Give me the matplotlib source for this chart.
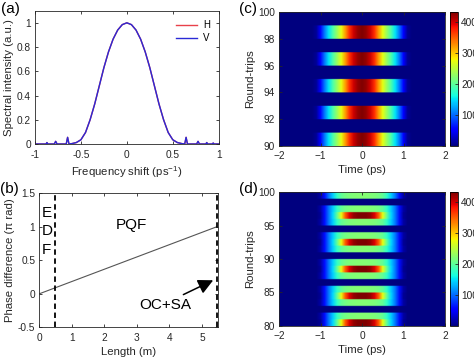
"""Four-panel figure: spectrum, phase vs length, and two round-trip pulse maps."""

import numpy as np
import matplotlib

matplotlib.use("Agg")
import matplotlib.pyplot as plt

plt.rcParams["font.family"] = ["Liberation Sans", "DejaVu Sans"]
plt.rcParams["mathtext.fontset"] = "custom"
plt.rcParams["mathtext.rm"] = "Liberation Sans"
plt.rcParams["mathtext.it"] = "Liberation Sans"

W, H = 474, 360
TXT = "#262626"
TICK_FS = 7.3
LABEL_FS = 8.2

# (a) spectrum
freq = [-1.0, -0.9, -0.88, -0.87, -0.86, -0.79, -0.775, -0.76, -0.66, -0.645, -0.63,
        -0.6, -0.55, -0.5, -0.45, -0.4, -0.35, -0.3, -0.25, -0.2, -0.15, -0.1, -0.05,
        0.0, 0.05, 0.1, 0.15, 0.2, 0.25, 0.3, 0.35, 0.4, 0.45, 0.5, 0.55, 0.6,
        0.63, 0.645, 0.66, 0.76, 0.775, 0.79, 0.86, 0.87, 0.88, 0.93, 0.94, 0.95, 1.0]
spec = [0.0, 0.0, 0.0, 0.012, 0.0, 0.0, 0.022, 0.0, 0.0, 0.055, 0.0,
        0.003, 0.012, 0.035, 0.095, 0.2, 0.33, 0.48, 0.63, 0.76, 0.865, 0.94, 0.985,
        1.0, 0.985, 0.94, 0.865, 0.76, 0.63, 0.48, 0.33, 0.2, 0.095, 0.035, 0.012, 0.003,
        0.0, 0.055, 0.0, 0.0, 0.022, 0.0, 0.0, 0.012, 0.0, 0.0, 0.008, 0.0, 0.0]

# (b) phase difference along the cavity
length = [0.0, 5.45]
phase = [0.0, 1.0]
edf_end = 0.48
cavity_end = 5.45

# (c)/(d) pulse intensity profiles, sampled every 0.1 ps from -2 to 2 ps
prof_c = [0, 0, 0, 0, 0, 0, 0, 0, 0, 10, 50, 105, 150, 190, 230, 270, 320, 370, 400, 420,
          430, 420, 400, 370, 320, 270, 230, 190, 150, 105, 50, 10, 0, 0, 0, 0, 0, 0, 0, 0, 0]
prof_d_peak = [0, 0, 0, 0, 0, 0, 0, 0, 0, 0, 10, 60, 105, 145, 200, 270, 350, 395, 420, 430,
               430, 430, 420, 395, 350, 270, 200, 145, 105, 60, 10, 0, 0, 0, 0, 0, 0, 0, 0, 0, 0]
prof_d_side = [0, 0, 0, 0, 0, 0, 0, 0, 0, 0, 15, 60, 105, 140, 175, 200, 210, 215, 218, 220,
               220, 220, 218, 215, 210, 200, 175, 140, 105, 60, 15, 0, 0, 0, 0, 0, 0, 0, 0, 0, 0]
prof_dark = [0] * 41

rows_c = ["c", "dark"] * 5  # round trips 90..99
rows_d = ["peak", "side", "dark", "side"] * 5  # round trips 80..99

PROFILES = {"c": prof_c, "peak": prof_d_peak, "side": prof_d_side, "dark": prof_dark}


def box(l, t, r, b):
    return [l / W, 1 - b / H, (r - l) / W, (b - t) / H]


def style(ax):
    ax.tick_params(direction="in", length=2.5, width=0.6, labelsize=TICK_FS,
                   colors=TXT, top=True, right=True, pad=3)
    ax.tick_params(axis="x", pad=4)
    for s in ax.spines.values():
        s.set_linewidth(0.6)
        s.set_color(TXT)


def pulse_map(ax, cax, rows, y0, y1, yticks):
    img = np.array([PROFILES[r] for r in rows], dtype=float)
    img = np.repeat(img, 20, axis=0)
    im = ax.imshow(img, cmap="jet", vmin=0, vmax=430, origin="lower", aspect="auto",
                   interpolation="bilinear", extent=[-2.05, 2.05, y0, y1])
    ax.set_xlim(-2, 2)
    ax.set_ylim(y0, y1)
    ax.set_xticks([-2, -1, 0, 1, 2])
    ax.set_yticks(yticks)
    ax.set_xlabel("Time (ps)", fontsize=LABEL_FS, color=TXT, labelpad=3)
    ax.set_ylabel("Round-trips", fontsize=LABEL_FS, color=TXT, labelpad=2)
    style(ax)
    cb = fig.colorbar(im, cax=cax)
    cb.set_ticks([100, 200, 300, 400])
    cb.ax.tick_params(direction="in", length=2, width=0.6, labelsize=TICK_FS,
                      colors=TXT, pad=2)
    cb.outline.set_linewidth(0.6)


fig = plt.figure(figsize=(W / 100, H / 100), dpi=100)

# (a)
ax_a = fig.add_axes(box(35, 10.7, 218.7, 144))
ax_a.plot(freq, spec, color="#e8414a", lw=1.0, label="H")
ax_a.plot(freq, spec, color="#2a2ad6", lw=1.0, label="V")
ax_a.set_xlim(-1, 1)
ax_a.set_ylim(0, 1.1)
ax_a.set_xticks([-1, -0.5, 0, 0.5, 1])
ax_a.set_xticklabels(["-1", "-0.5", "0", "0.5", "1"])
ax_a.set_yticks([0, 0.2, 0.4, 0.6, 0.8, 1])
ax_a.set_yticklabels(["0", "0.2", "0.4", "0.6", "0.8", "1"])
ax_a.set_xlabel("Frequency shift (ps$^{-1}$)", fontsize=LABEL_FS, color=TXT, labelpad=3)
ax_a.set_ylabel("Spectral intensity (a.u.)", fontsize=LABEL_FS, color=TXT, labelpad=2)
style(ax_a)
ax_a.legend(loc="upper right", frameon=False, fontsize=7, handlelength=2.2,
            labelspacing=0.3, borderaxespad=0.3, handletextpad=0.6,
            bbox_to_anchor=(0.99, 0.98))

# (b)
ax_b = fig.add_axes(box(39.3, 193.3, 218.3, 327.3))
ax_b.plot(length, phase, color="#555555", lw=0.8)
ax_b.axvline(edf_end, color="black", lw=1.3, ls=(0, (3, 2)))
ax_b.axvline(cavity_end, color="black", lw=1.3, ls=(0, (3, 2)))
ax_b.set_xlim(0, 5.5)
ax_b.set_ylim(-0.5, 1.5)
ax_b.set_xticks([0, 1, 2, 3, 4, 5])
ax_b.set_yticks([-0.5, 0, 0.5, 1, 1.5])
ax_b.set_yticklabels(["-0.5", "0", "0.5", "1", "1.5"])
ax_b.set_xlabel("Length (m)", fontsize=LABEL_FS, color=TXT, labelpad=3)
ax_b.set_ylabel("Phase difference (\u03c0 rad)", fontsize=LABEL_FS, color=TXT, labelpad=2)
style(ax_b)
for ch, yy in zip("EDF", [1.21, 0.93, 0.65]):
    ax_b.text(0.23, yy, ch, fontsize=11, ha="center", va="center", color="black")
ax_b.text(2.84, 1.03, "PQF", fontsize=11, ha="center", va="center", color="black")
ax_b.text(3.87, -0.17, "OC+SA", fontsize=11, ha="center", va="center", color="black")
ax_b.annotate("", xy=(5.42, 0.22), xytext=(4.35, -0.03),
              arrowprops=dict(arrowstyle="-|>,head_length=0.9,head_width=0.45",
                              color="black", lw=1.1))

# (c) and (d)
ax_c = fig.add_axes(box(279.3, 12.3, 445, 145.7))
cax_c = fig.add_axes(box(450, 12.3, 458.3, 145.7))
pulse_map(ax_c, cax_c, rows_c, 90, 100, [90, 92, 94, 96, 98, 100])

ax_d = fig.add_axes(box(279.3, 192.3, 445, 325.7))
cax_d = fig.add_axes(box(450, 192.3, 458.3, 325.7))
pulse_map(ax_d, cax_d, rows_d, 80, 100, [80, 85, 90, 95, 100])

# panel letters
for lab, x, y in [("(a)", 1, 9), ("(b)", 0, 189), ("(c)", 239, 9), ("(d)", 239, 189)]:
    fig.text(x / W, 1 - y / H, lab, fontsize=11, ha="left", va="center", color="black")

fig.savefig("out.png", dpi=100)
